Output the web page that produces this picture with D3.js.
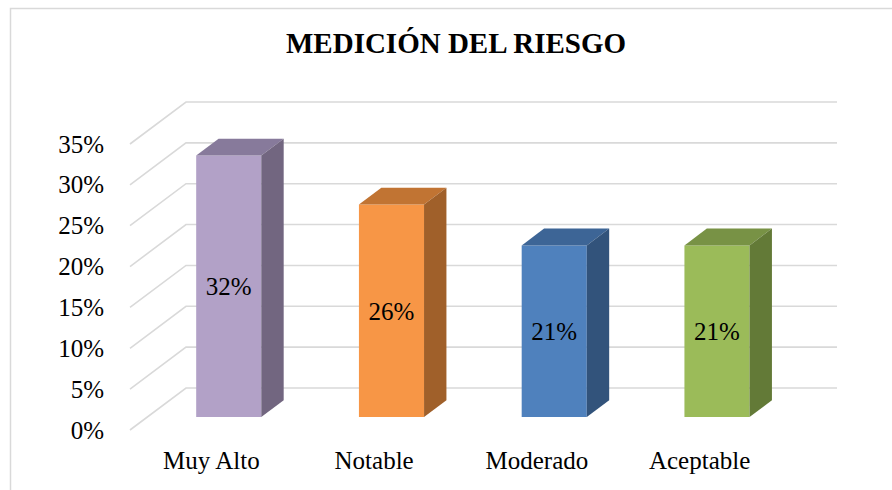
<!DOCTYPE html>
<html>
<head>
<meta charset="utf-8">
<script src="https://cdnjs.cloudflare.com/ajax/libs/d3/7.8.5/d3.min.js"></script>
<style>
  html, body { margin: 0; padding: 0; background: #fff; }
  svg { display: block; }
</style>
</head>
<body>
<svg id="chart" width="892" height="490" style="font-family:'Liberation Serif'"></svg>
<script>
// Chart data
const title = "MEDICIÓN DEL RIESGO";
const categories = ["Muy Alto", "Notable", "Moderado", "Aceptable"];
const values = [0.32, 0.26, 0.21, 0.21];
const tickValues = [0, 0.05, 0.10, 0.15, 0.20, 0.25, 0.30, 0.35];
const frontColors = ["#B2A1C7", "#F79646", "#4F81BD", "#9BBB59"];
const topColors   = ["#877A9B", "#C17433", "#3D6596", "#789245"];
const sideColors  = ["#726680", "#A0602A", "#32537B", "#637A37"];

const FONT = "'Liberation Serif'";
const svg = d3.select("#chart");

// 3D projection: depth 0 = front edge of floor, depth 1 = back wall
const DX = 56, DY = 42;
const proj = (px, py, d) => [px + DX * d, py - DY * d];
const D0 = 0.31, D1 = 0.71; // bar front / back depth

const x = d3.scaleBand()
  .domain(categories)
  .range([130, 781])
  .paddingInner(0.6)
  .paddingOuter(0.3);

const y = d3.scaleLinear()
  .domain([0, 0.35])
  .range([430, 144]);

// Outer frame (left and top edges)
svg.append("path")
  .attr("d", "M10.5,490 L10.5,8.5 L892,8.5")
  .attr("fill", "none")
  .attr("stroke", "#D9D9D9")
  .attr("stroke-width", 1.5);

// Title
svg.append("text")
  .attr("x", 456)
  .attr("y", 53)
  .attr("text-anchor", "middle")
  .attr("font-family", FONT)
  .style("font-family", FONT)
  .style("font-size", "29px")
  .style("font-weight", "bold")
  .attr("fill", "#000")
  .text(title);

// Gridlines: side wall diagonals + back wall horizontals
const xFront = x.range()[0], xBackEnd = x.range()[1];
const grid = svg.append("g").attr("class", "grid");
grid.selectAll("path")
  .data(tickValues)
  .join("path")
  .attr("d", v => {
    const a = proj(xFront, y(v), 0);
    const b = proj(xFront, y(v), 1);
    const c = proj(xBackEnd, y(v), 1);
    return `M${a}L${b}L${c}`;
  })
  .attr("fill", "none")
  .attr("stroke", "#D9D9D9")
  .attr("stroke-width", 1.6);

// Value axis
const yAxis = svg.append("g")
  .attr("transform", `translate(${xFront},0)`)
  .call(d3.axisLeft(y).tickValues(tickValues).tickFormat(d3.format(".0%")).tickSize(0).tickPadding(26))
  .attr("font-family", FONT)
  .attr("font-size", 25);
yAxis.select(".domain").remove();
yAxis.selectAll("text")
  .style("font-family", FONT)
  .style("font-size", "25px")
  .attr("fill", "#000");

// Category axis
const xAxis = svg.append("g")
  .call(d3.axisBottom(x).tickSize(0))
  .attr("font-family", FONT)
  .attr("font-size", 25);
xAxis.select(".domain").remove();
xAxis.selectAll("text")
  .attr("y", 460)
  .attr("dy", "0.35em")
  .style("font-family", FONT)
  .style("font-size", "25px")
  .attr("fill", "#000");

// Bars
const bw = x.bandwidth();
const bars = svg.append("g").attr("class", "bars");
categories.forEach((cat, i) => {
  const v = values[i];
  const x0 = x(cat), x1 = x(cat) + bw;
  const yb = y(0), yt = y(v);
  const pts = (list) => list.map(p => p.join(",")).join(" ");
  const g = bars.append("g");
  // front face
  g.append("polygon")
    .attr("points", pts([proj(x0, yb, D0), proj(x1, yb, D0), proj(x1, yt, D0), proj(x0, yt, D0)]))
    .attr("fill", frontColors[i]);
  // top face
  g.append("polygon")
    .attr("points", pts([proj(x0, yt, D0), proj(x1, yt, D0), proj(x1, yt, D1), proj(x0, yt, D1)]))
    .attr("fill", topColors[i]);
  // right side face
  g.append("polygon")
    .attr("points", pts([proj(x1, yb, D0), proj(x1, yb, D1), proj(x1, yt, D1), proj(x1, yt, D0)]))
    .attr("fill", sideColors[i]);
  // value label
  const c = proj(x0 + bw / 2, (yb + yt) / 2, D0);
  g.append("text")
    .attr("x", c[0])
    .attr("y", c[1])
    .attr("dy", "0.35em")
    .attr("text-anchor", "middle")
    .style("font-family", FONT)
    .style("font-size", "25px")
    .attr("fill", "#000")
    .text(d3.format(".0%")(v));
});
</script>
</body>
</html>
